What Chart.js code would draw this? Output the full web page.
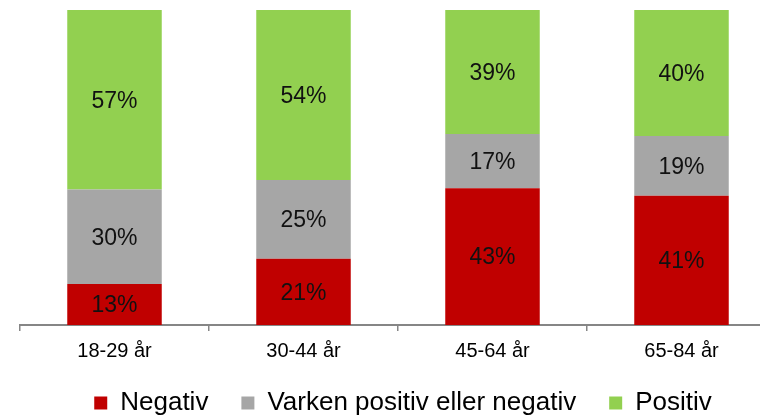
<!DOCTYPE html>
<html><head><meta charset="utf-8">
<script src="https://cdn.jsdelivr.net/npm/chart.js@4"></script>
<style>html,body{margin:0;padding:0;overflow:hidden;background:#fff;width:760px;height:419px}#wrap{width:800px;height:419px}</style>
</head><body><div id="wrap"><canvas id="c" width="800" height="419"></canvas></div>
<script>
const categories = ["18-29 år", "30-44 år", "45-64 år", "65-84 år"];
const negativ = [13, 21, 43.4, 41];
const varken = [30, 25, 17.2, 19];
const positiv = [57, 54, 39.4, 40];
const seriesNames = ["Negativ", "Varken positiv eller negativ", "Positiv"];
const colors = ["#C00000", "#A6A6A6", "#92D050"];
const FONT = '"Liberation Sans", Arial, sans-serif';

const labelPlugin = {
  id: 'barLabels',
  beforeLayout(chart) {
    const lg = chart.legend;
    if (lg && !lg._patched) {
      const f = lg.fit;
      lg.fit = function () { f.call(this); this.height = 62; };
      lg._patched = true;
    }
  },
  afterLayout(chart) {
    const lg = chart.legend;
    if (lg) { lg.left += 5; lg.right += 5; }
  },
  afterDatasetsDraw(chart) {
    const ctx = chart.ctx;
    ctx.save();
    ctx.font = '23px ' + FONT;
    ctx.fillStyle = '#111';
    ctx.textAlign = 'center';
    ctx.textBaseline = 'middle';
    chart.data.datasets.forEach((ds, i) => {
      const meta = chart.getDatasetMeta(i);
      meta.data.forEach((el, j) => {
        const v = ds.data[j];
        const y = (el.y + el.base) / 2;
        ctx.fillText(Math.round(v) + '%', el.x, y + 1.5);
      });
    });
    ctx.restore();
  }
};

new Chart(document.getElementById('c'), {
  type: 'bar',
  data: {
    labels: categories,
    datasets: [
      { label: seriesNames[0], data: negativ, backgroundColor: colors[0] },
      { label: seriesNames[1], data: varken, backgroundColor: colors[1] },
      { label: seriesNames[2], data: positiv, backgroundColor: colors[2] }
    ]
  },
  options: {
    responsive: false,
    animation: false,
    layout: { padding: { left: 20, right: 24, top: 10, bottom: 0 } },
    datasets: { bar: { categoryPercentage: 1, barPercentage: 0.5 } },
    plugins: {
      legend: {
        position: 'bottom',
        labels: {
          font: { size: 26, family: FONT },
          color: '#000',
          boxWidth: 13, boxHeight: 13,
          padding: 33
        }
      },
      tooltip: { enabled: false }
    },
    scales: {
      x: {
        stacked: true,
        offset: true,
        afterFit(scale) { scale.height = 32; },
        grid: { offset: true, drawOnChartArea: false, drawTicks: true, tickLength: 6, color: '#868686', lineWidth: 1.5 },
        border: { display: true, color: '#868686', width: 2 },
        ticks: { color: '#000', padding: 8, font: { size: 20, family: FONT } }
      },
      y: {
        stacked: true,
        min: 0, max: 100,
        display: false
      }
    }
  },
  plugins: [labelPlugin]
});
</script></body></html>
